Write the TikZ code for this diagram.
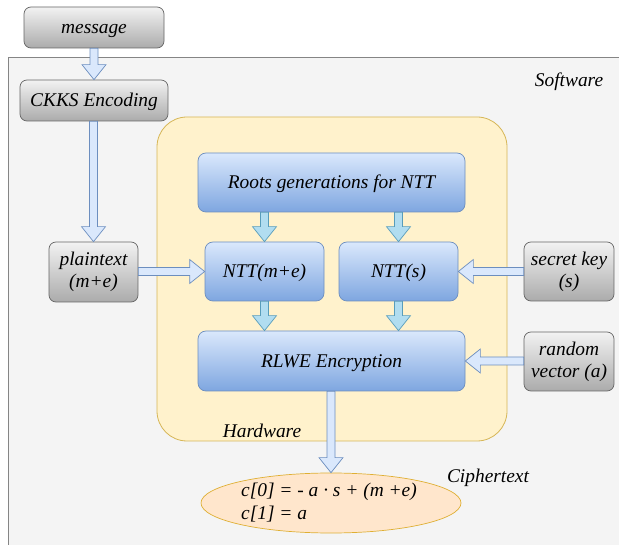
\documentclass[tikz,border=0pt]{standalone}
\usepackage{fontspec}
\newfontfamily\diagfont{Liberation Serif}
\usetikzlibrary{calc,shapes.geometric}
\definecolor{swfill}{HTML}{F4F4F4}
\definecolor{swdraw}{HTML}{666666}
\definecolor{grtop}{HTML}{F2F2F2}
\definecolor{grbot}{HTML}{ABABAB}
\definecolor{bltop}{HTML}{DAE8FC}
\definecolor{blbot}{HTML}{7EA6E0}
\definecolor{bldraw}{HTML}{6C8EBF}
\definecolor{hwfill}{HTML}{FFF2CC}
\definecolor{hwdraw}{HTML}{D6B656}
\definecolor{elfill}{HTML}{FFE6CC}
\definecolor{eldraw}{HTML}{D79B00}
\definecolor{arfill}{HTML}{B1DDF0}
\definecolor{ardraw}{HTML}{10739E}
\newcommand\varr[3]{\draw[#1] let \p1=(#2), \p2=(#3) in
  (\x2-4pt,\y1) -- (\x2-4pt,\y2+15pt) -- (\x2-12pt,\y2+15pt) -- (\x2,\y2)
  -- (\x2+12pt,\y2+15pt) -- (\x2+4pt,\y2+15pt) -- (\x2+4pt,\y1) -- cycle;}
\newcommand\harr[4]{\draw[#1] let \p1=(#2), \p2=(#3) in
  (\x1,\y2+4pt) -- (\x2+#4pt,\y2+4pt) -- (\x2+#4pt,\y2+12pt) -- (\x2,\y2)
  -- (\x2+#4pt,\y2-12pt) -- (\x2+#4pt,\y2-4pt) -- (\x1,\y2-4pt) -- cycle;}
\tikzset{
  txt/.style={font=\diagfont\fontsize{19.4}{22}\selectfont\itshape},
  oneline/.style={text height=12.8pt, text depth=0pt},
  graybox/.style={txt, draw=swdraw, line width=0.7pt, rounded corners=7pt,
    top color=grtop, bottom color=grbot, align=center, inner sep=0pt},
  bluebox/.style={txt, oneline, draw=bldraw, line width=0.7pt, rounded corners=8pt,
    top color=bltop, bottom color=blbot, align=center, inner sep=0pt},
  hollowarr/.style={fill=bltop, draw=bldraw, line width=0.7pt},
  fullarr/.style={fill=arfill, draw=ardraw!70, line width=0.7pt},
}
\begin{document}
\begin{tikzpicture}[x=1pt,y=-1pt]
\clip (0,0) rectangle (619,545);
\fill[white] (0,0) rectangle (619,545);
% software area
\draw[fill=swfill, draw=swdraw!80, line width=0.8pt] (8.5,57) rectangle (640,570);
% hardware area
\draw[fill=hwfill, draw=hwdraw, line width=0.8pt, rounded corners=30pt] (157,117) rectangle (507,441);

\node[graybox, oneline, minimum width=140pt, minimum height=41pt] (msg) at (94,27.5) {message};
\node[graybox, oneline, minimum width=148pt, minimum height=41pt] (ckks) at (94,100.5) {CKKS Encoding};
\node[graybox, minimum width=89pt, minimum height=60pt] (plain) at (93.5,272) {plaintext\\(m+e)};
\node[graybox, minimum width=90pt, minimum height=59pt] (sk) at (569,271.5) {secret key\\(s)};
\node[graybox, minimum width=90pt, minimum height=59pt] (rv) at (569,361.5) {random\\vector (a)};

\node[bluebox, minimum width=267pt, minimum height=59pt] (roots) at (331.5,182.5) {Roots generations for NTT};
\node[bluebox, minimum width=119pt, minimum height=59pt] (nttm) at (264.5,271.5) {NTT(m+e)};
\node[bluebox, minimum width=119pt, minimum height=59pt] (ntts) at (398.5,271.5) {NTT(s)};
\node[bluebox, minimum width=267pt, minimum height=60pt] (rlwe) at (331.5,361) {RLWE Encryption};

\node[ellipse, draw=eldraw!80, fill=elfill, line width=0.7pt, minimum width=260pt, minimum height=60pt, inner sep=0pt] (ct) at (331,503) {};
\node[txt, font=\diagfont\fontsize{19.4}{23}\selectfont\itshape, anchor=west, align=left, inner sep=0pt] (cttext) at (241,503) {c[0] = - a · s + (m +e)\\c[1] = a};

\node[txt] (swlabel) at (569,82) {Software};
\node[txt] (hwlabel) at (262,431) {Hardware};
\node[txt] (ctlabel) at (488,478) {Ciphertext};

% connectors
\varr{hollowarr}{msg.south}{ckks.north}
\varr{hollowarr}{ckks.south}{plain.north}
\varr{fullarr}{roots.south}{nttm.north}
\varr{fullarr}{roots.south}{ntts.north}
\varr{fullarr}{nttm.south}{rlwe.north -| nttm.south}
\varr{fullarr}{ntts.south}{rlwe.north -| ntts.south}
\varr{hollowarr}{rlwe.south}{ct.north}
\harr{hollowarr}{plain.east}{nttm.west}{-15}
\harr{hollowarr}{sk.west}{ntts.east}{15}
\harr{hollowarr}{rv.west}{rlwe.east}{15}
\end{tikzpicture}
\end{document}
